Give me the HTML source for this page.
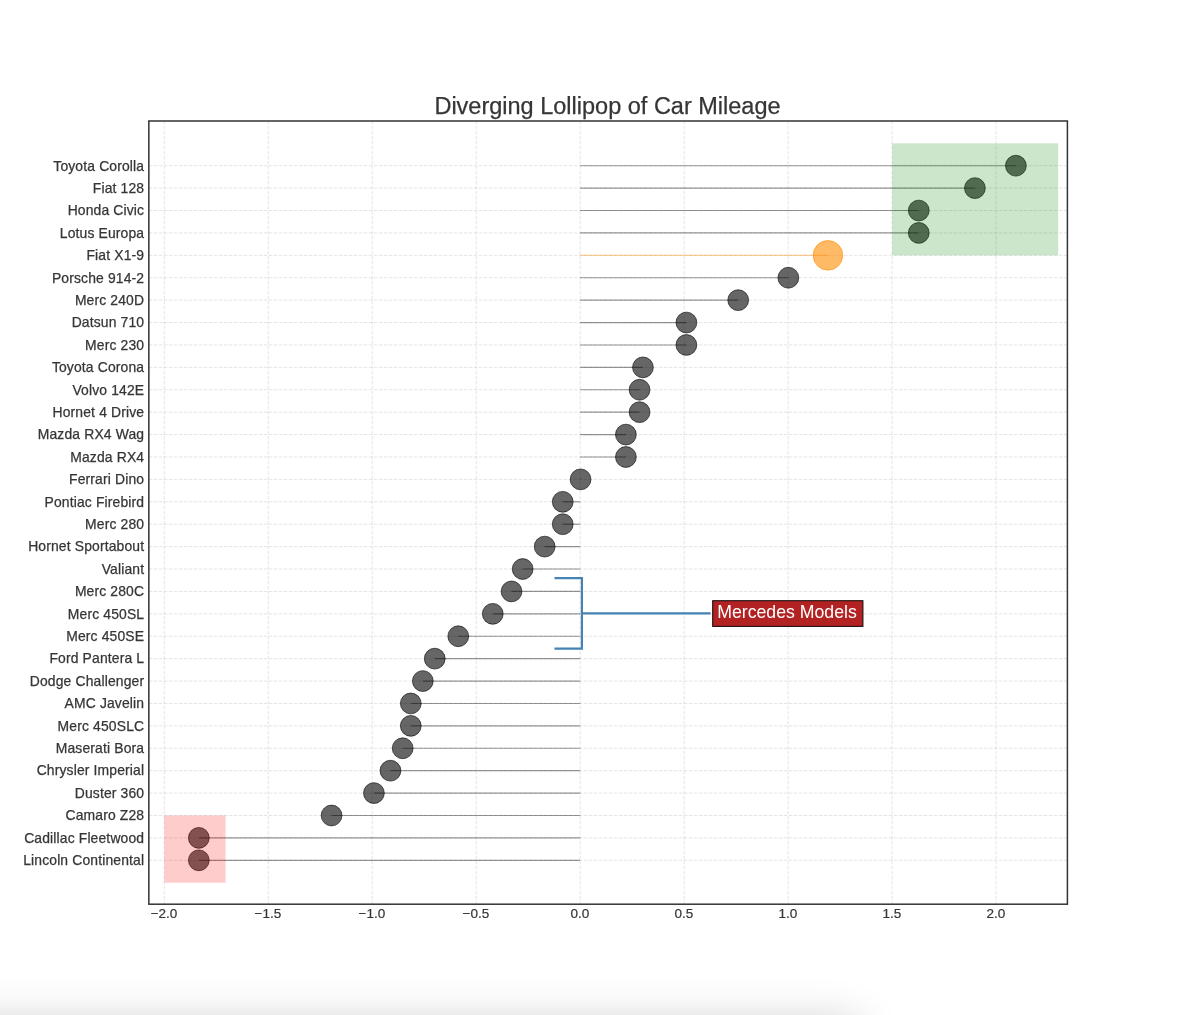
<!DOCTYPE html>
<html><head><meta charset="utf-8"><title>Diverging Lollipop of Car Mileage</title>
<style>html,body{margin:0;padding:0;background:#fff}body{width:1184px;height:1015px;overflow:hidden;position:relative}#shadow{position:absolute;left:-100px;top:1021px;width:958px;height:80px;background:#ddd;box-shadow:0 0 44px rgba(0,0,0,0.2)}</style></head>
<body>
<svg width="1184" height="1015" viewBox="0 0 1184 1015" style="display:block;position:absolute;left:0;top:0" font-family="Liberation Sans, Arial, sans-serif">
<rect width="1184" height="1015" fill="#fff"/>
<path d="M164.26 121.0 V904.2 M268.25 121.0 V904.2 M372.23 121.0 V904.2 M476.22 121.0 V904.2 M580.20 121.0 V904.2 M684.19 121.0 V904.2 M788.17 121.0 V904.2 M892.15 121.0 V904.2 M996.14 121.0 V904.2 M148.85 860.30 H1067.4 M148.85 837.89 H1067.4 M148.85 815.49 H1067.4 M148.85 793.08 H1067.4 M148.85 770.68 H1067.4 M148.85 748.27 H1067.4 M148.85 725.86 H1067.4 M148.85 703.46 H1067.4 M148.85 681.05 H1067.4 M148.85 658.65 H1067.4 M148.85 636.24 H1067.4 M148.85 613.83 H1067.4 M148.85 591.43 H1067.4 M148.85 569.02 H1067.4 M148.85 546.62 H1067.4 M148.85 524.21 H1067.4 M148.85 501.80 H1067.4 M148.85 479.40 H1067.4 M148.85 456.99 H1067.4 M148.85 434.59 H1067.4 M148.85 412.18 H1067.4 M148.85 389.77 H1067.4 M148.85 367.37 H1067.4 M148.85 344.96 H1067.4 M148.85 322.56 H1067.4 M148.85 300.15 H1067.4 M148.85 277.74 H1067.4 M148.85 255.34 H1067.4 M148.85 232.93 H1067.4 M148.85 210.53 H1067.4 M148.85 188.12 H1067.4 M148.85 165.71 H1067.4" stroke="#cccccc" stroke-opacity="0.5" stroke-width="1" stroke-dasharray="3.5 1.5" fill="none"/>
<path d="M580.20 860.30 H198.82" stroke="#000" stroke-opacity="0.4" stroke-width="1.15"/>
<path d="M580.20 837.89 H198.82" stroke="#000" stroke-opacity="0.4" stroke-width="1.15"/>
<path d="M580.20 815.49 H331.57" stroke="#000" stroke-opacity="0.4" stroke-width="1.15"/>
<path d="M580.20 793.08 H373.92" stroke="#000" stroke-opacity="0.4" stroke-width="1.15"/>
<path d="M580.20 770.68 H390.44" stroke="#000" stroke-opacity="0.4" stroke-width="1.15"/>
<path d="M580.20 748.27 H402.68" stroke="#000" stroke-opacity="0.4" stroke-width="1.15"/>
<path d="M580.20 725.86 H410.78" stroke="#000" stroke-opacity="0.4" stroke-width="1.15"/>
<path d="M580.20 703.46 H410.78" stroke="#000" stroke-opacity="0.4" stroke-width="1.15"/>
<path d="M580.20 681.05 H422.82" stroke="#000" stroke-opacity="0.4" stroke-width="1.15"/>
<path d="M580.20 658.65 H434.75" stroke="#000" stroke-opacity="0.4" stroke-width="1.15"/>
<path d="M580.20 636.24 H458.27" stroke="#000" stroke-opacity="0.4" stroke-width="1.15"/>
<path d="M580.20 613.83 H492.76" stroke="#000" stroke-opacity="0.4" stroke-width="1.15"/>
<path d="M580.20 591.43 H511.53" stroke="#000" stroke-opacity="0.4" stroke-width="1.15"/>
<path d="M580.20 569.02 H522.67" stroke="#000" stroke-opacity="0.4" stroke-width="1.15"/>
<path d="M580.20 546.62 H544.67" stroke="#000" stroke-opacity="0.4" stroke-width="1.15"/>
<path d="M580.20 524.21 H562.73" stroke="#000" stroke-opacity="0.4" stroke-width="1.15"/>
<path d="M580.20 501.80 H562.73" stroke="#000" stroke-opacity="0.4" stroke-width="1.15"/>
<path d="M580.20 479.40 H580.56" stroke="#000" stroke-opacity="0.4" stroke-width="1.15"/>
<path d="M580.20 456.99 H625.89" stroke="#000" stroke-opacity="0.4" stroke-width="1.15"/>
<path d="M580.20 434.59 H625.89" stroke="#000" stroke-opacity="0.4" stroke-width="1.15"/>
<path d="M580.20 412.18 H639.56" stroke="#000" stroke-opacity="0.4" stroke-width="1.15"/>
<path d="M580.20 389.77 H639.56" stroke="#000" stroke-opacity="0.4" stroke-width="1.15"/>
<path d="M580.20 367.37 H642.95" stroke="#000" stroke-opacity="0.4" stroke-width="1.15"/>
<path d="M580.20 344.96 H686.40" stroke="#000" stroke-opacity="0.4" stroke-width="1.15"/>
<path d="M580.20 322.56 H686.40" stroke="#000" stroke-opacity="0.4" stroke-width="1.15"/>
<path d="M580.20 300.15 H738.21" stroke="#000" stroke-opacity="0.4" stroke-width="1.15"/>
<path d="M580.20 277.74 H788.35" stroke="#000" stroke-opacity="0.4" stroke-width="1.15"/>
<path d="M580.20 255.34 H827.96" stroke="#ff8c00" stroke-opacity="0.4" stroke-width="1.15"/>
<path d="M580.20 232.93 H918.77" stroke="#000" stroke-opacity="0.4" stroke-width="1.15"/>
<path d="M580.20 210.53 H918.77" stroke="#000" stroke-opacity="0.4" stroke-width="1.15"/>
<path d="M580.20 188.12 H974.91" stroke="#000" stroke-opacity="0.4" stroke-width="1.15"/>
<path d="M580.20 165.71 H1015.89" stroke="#000" stroke-opacity="0.4" stroke-width="1.15"/>
<circle cx="198.82" cy="860.30" r="10.4" fill="#000" fill-opacity="0.6" stroke="#000" stroke-opacity="0.6" stroke-width="1"/>
<circle cx="198.82" cy="837.89" r="10.4" fill="#000" fill-opacity="0.6" stroke="#000" stroke-opacity="0.6" stroke-width="1"/>
<circle cx="331.57" cy="815.49" r="10.4" fill="#000" fill-opacity="0.6" stroke="#000" stroke-opacity="0.6" stroke-width="1"/>
<circle cx="373.92" cy="793.08" r="10.4" fill="#000" fill-opacity="0.6" stroke="#000" stroke-opacity="0.6" stroke-width="1"/>
<circle cx="390.44" cy="770.68" r="10.4" fill="#000" fill-opacity="0.6" stroke="#000" stroke-opacity="0.6" stroke-width="1"/>
<circle cx="402.68" cy="748.27" r="10.4" fill="#000" fill-opacity="0.6" stroke="#000" stroke-opacity="0.6" stroke-width="1"/>
<circle cx="410.78" cy="725.86" r="10.4" fill="#000" fill-opacity="0.6" stroke="#000" stroke-opacity="0.6" stroke-width="1"/>
<circle cx="410.78" cy="703.46" r="10.4" fill="#000" fill-opacity="0.6" stroke="#000" stroke-opacity="0.6" stroke-width="1"/>
<circle cx="422.82" cy="681.05" r="10.4" fill="#000" fill-opacity="0.6" stroke="#000" stroke-opacity="0.6" stroke-width="1"/>
<circle cx="434.75" cy="658.65" r="10.4" fill="#000" fill-opacity="0.6" stroke="#000" stroke-opacity="0.6" stroke-width="1"/>
<circle cx="458.27" cy="636.24" r="10.4" fill="#000" fill-opacity="0.6" stroke="#000" stroke-opacity="0.6" stroke-width="1"/>
<circle cx="492.76" cy="613.83" r="10.4" fill="#000" fill-opacity="0.6" stroke="#000" stroke-opacity="0.6" stroke-width="1"/>
<circle cx="511.53" cy="591.43" r="10.4" fill="#000" fill-opacity="0.6" stroke="#000" stroke-opacity="0.6" stroke-width="1"/>
<circle cx="522.67" cy="569.02" r="10.4" fill="#000" fill-opacity="0.6" stroke="#000" stroke-opacity="0.6" stroke-width="1"/>
<circle cx="544.67" cy="546.62" r="10.4" fill="#000" fill-opacity="0.6" stroke="#000" stroke-opacity="0.6" stroke-width="1"/>
<circle cx="562.73" cy="524.21" r="10.4" fill="#000" fill-opacity="0.6" stroke="#000" stroke-opacity="0.6" stroke-width="1"/>
<circle cx="562.73" cy="501.80" r="10.4" fill="#000" fill-opacity="0.6" stroke="#000" stroke-opacity="0.6" stroke-width="1"/>
<circle cx="580.56" cy="479.40" r="10.4" fill="#000" fill-opacity="0.6" stroke="#000" stroke-opacity="0.6" stroke-width="1"/>
<circle cx="625.89" cy="456.99" r="10.4" fill="#000" fill-opacity="0.6" stroke="#000" stroke-opacity="0.6" stroke-width="1"/>
<circle cx="625.89" cy="434.59" r="10.4" fill="#000" fill-opacity="0.6" stroke="#000" stroke-opacity="0.6" stroke-width="1"/>
<circle cx="639.56" cy="412.18" r="10.4" fill="#000" fill-opacity="0.6" stroke="#000" stroke-opacity="0.6" stroke-width="1"/>
<circle cx="639.56" cy="389.77" r="10.4" fill="#000" fill-opacity="0.6" stroke="#000" stroke-opacity="0.6" stroke-width="1"/>
<circle cx="642.95" cy="367.37" r="10.4" fill="#000" fill-opacity="0.6" stroke="#000" stroke-opacity="0.6" stroke-width="1"/>
<circle cx="686.40" cy="344.96" r="10.4" fill="#000" fill-opacity="0.6" stroke="#000" stroke-opacity="0.6" stroke-width="1"/>
<circle cx="686.40" cy="322.56" r="10.4" fill="#000" fill-opacity="0.6" stroke="#000" stroke-opacity="0.6" stroke-width="1"/>
<circle cx="738.21" cy="300.15" r="10.4" fill="#000" fill-opacity="0.6" stroke="#000" stroke-opacity="0.6" stroke-width="1"/>
<circle cx="788.35" cy="277.74" r="10.4" fill="#000" fill-opacity="0.6" stroke="#000" stroke-opacity="0.6" stroke-width="1"/>
<circle cx="827.96" cy="255.34" r="14.8" fill="#ff8c00" fill-opacity="0.6" stroke="#ff8c00" stroke-opacity="0.6" stroke-width="1"/>
<circle cx="918.77" cy="232.93" r="10.4" fill="#000" fill-opacity="0.6" stroke="#000" stroke-opacity="0.6" stroke-width="1"/>
<circle cx="918.77" cy="210.53" r="10.4" fill="#000" fill-opacity="0.6" stroke="#000" stroke-opacity="0.6" stroke-width="1"/>
<circle cx="974.91" cy="188.12" r="10.4" fill="#000" fill-opacity="0.6" stroke="#000" stroke-opacity="0.6" stroke-width="1"/>
<circle cx="1015.89" cy="165.71" r="10.4" fill="#000" fill-opacity="0.6" stroke="#000" stroke-opacity="0.6" stroke-width="1"/>
<rect x="164.26" y="815.49" width="61.29" height="67.22" fill="#ff0000" fill-opacity="0.2"/>
<rect x="892.15" y="143.31" width="166.08" height="112.03" fill="#008000" fill-opacity="0.2"/>
<rect x="148.85" y="121.0" width="918.5500000000001" height="783.2" fill="none" stroke="#333" stroke-width="1.5"/>
<path d="M554.5 578.1 H581.9 V648.6 H554.5 M581.9 613.3 H710.6" fill="none" stroke="#4682b4" stroke-width="2.2" stroke-linejoin="miter"/>
<rect x="712.7" y="600.7" width="150.2" height="25.7" fill="#b22222" stroke="#1a1010" stroke-width="1.1"/>
<text x="787.0" y="618.2" font-size="17.7" fill="#fff" text-anchor="middle">Mercedes Models</text>
<text x="607.5" y="113.8" font-size="23.5" stroke="#363636" stroke-width="0.25" fill="#363636" text-anchor="middle">Diverging Lollipop of Car Mileage</text>
<text x="144.2" y="865.10" font-size="13.9" letter-spacing="0.15" stroke="#363636" stroke-width="0.25" fill="#363636" text-anchor="end">Lincoln Continental</text>
<text x="144.2" y="842.69" font-size="13.9" letter-spacing="0.15" stroke="#363636" stroke-width="0.25" fill="#363636" text-anchor="end">Cadillac Fleetwood</text>
<text x="144.2" y="820.29" font-size="13.9" letter-spacing="0.15" stroke="#363636" stroke-width="0.25" fill="#363636" text-anchor="end">Camaro Z28</text>
<text x="144.2" y="797.88" font-size="13.9" letter-spacing="0.15" stroke="#363636" stroke-width="0.25" fill="#363636" text-anchor="end">Duster 360</text>
<text x="144.2" y="775.48" font-size="13.9" letter-spacing="0.15" stroke="#363636" stroke-width="0.25" fill="#363636" text-anchor="end">Chrysler Imperial</text>
<text x="144.2" y="753.07" font-size="13.9" letter-spacing="0.15" stroke="#363636" stroke-width="0.25" fill="#363636" text-anchor="end">Maserati Bora</text>
<text x="144.2" y="730.66" font-size="13.9" letter-spacing="0.15" stroke="#363636" stroke-width="0.25" fill="#363636" text-anchor="end">Merc 450SLC</text>
<text x="144.2" y="708.26" font-size="13.9" letter-spacing="0.15" stroke="#363636" stroke-width="0.25" fill="#363636" text-anchor="end">AMC Javelin</text>
<text x="144.2" y="685.85" font-size="13.9" letter-spacing="0.15" stroke="#363636" stroke-width="0.25" fill="#363636" text-anchor="end">Dodge Challenger</text>
<text x="144.2" y="663.45" font-size="13.9" letter-spacing="0.15" stroke="#363636" stroke-width="0.25" fill="#363636" text-anchor="end">Ford Pantera L</text>
<text x="144.2" y="641.04" font-size="13.9" letter-spacing="0.15" stroke="#363636" stroke-width="0.25" fill="#363636" text-anchor="end">Merc 450SE</text>
<text x="144.2" y="618.63" font-size="13.9" letter-spacing="0.15" stroke="#363636" stroke-width="0.25" fill="#363636" text-anchor="end">Merc 450SL</text>
<text x="144.2" y="596.23" font-size="13.9" letter-spacing="0.15" stroke="#363636" stroke-width="0.25" fill="#363636" text-anchor="end">Merc 280C</text>
<text x="144.2" y="573.82" font-size="13.9" letter-spacing="0.15" stroke="#363636" stroke-width="0.25" fill="#363636" text-anchor="end">Valiant</text>
<text x="144.2" y="551.42" font-size="13.9" letter-spacing="0.15" stroke="#363636" stroke-width="0.25" fill="#363636" text-anchor="end">Hornet Sportabout</text>
<text x="144.2" y="529.01" font-size="13.9" letter-spacing="0.15" stroke="#363636" stroke-width="0.25" fill="#363636" text-anchor="end">Merc 280</text>
<text x="144.2" y="506.60" font-size="13.9" letter-spacing="0.15" stroke="#363636" stroke-width="0.25" fill="#363636" text-anchor="end">Pontiac Firebird</text>
<text x="144.2" y="484.20" font-size="13.9" letter-spacing="0.15" stroke="#363636" stroke-width="0.25" fill="#363636" text-anchor="end">Ferrari Dino</text>
<text x="144.2" y="461.79" font-size="13.9" letter-spacing="0.15" stroke="#363636" stroke-width="0.25" fill="#363636" text-anchor="end">Mazda RX4</text>
<text x="144.2" y="439.39" font-size="13.9" letter-spacing="0.15" stroke="#363636" stroke-width="0.25" fill="#363636" text-anchor="end">Mazda RX4 Wag</text>
<text x="144.2" y="416.98" font-size="13.9" letter-spacing="0.15" stroke="#363636" stroke-width="0.25" fill="#363636" text-anchor="end">Hornet 4 Drive</text>
<text x="144.2" y="394.57" font-size="13.9" letter-spacing="0.15" stroke="#363636" stroke-width="0.25" fill="#363636" text-anchor="end">Volvo 142E</text>
<text x="144.2" y="372.17" font-size="13.9" letter-spacing="0.15" stroke="#363636" stroke-width="0.25" fill="#363636" text-anchor="end">Toyota Corona</text>
<text x="144.2" y="349.76" font-size="13.9" letter-spacing="0.15" stroke="#363636" stroke-width="0.25" fill="#363636" text-anchor="end">Merc 230</text>
<text x="144.2" y="327.36" font-size="13.9" letter-spacing="0.15" stroke="#363636" stroke-width="0.25" fill="#363636" text-anchor="end">Datsun 710</text>
<text x="144.2" y="304.95" font-size="13.9" letter-spacing="0.15" stroke="#363636" stroke-width="0.25" fill="#363636" text-anchor="end">Merc 240D</text>
<text x="144.2" y="282.54" font-size="13.9" letter-spacing="0.15" stroke="#363636" stroke-width="0.25" fill="#363636" text-anchor="end">Porsche 914-2</text>
<text x="144.2" y="260.14" font-size="13.9" letter-spacing="0.15" stroke="#363636" stroke-width="0.25" fill="#363636" text-anchor="end">Fiat X1-9</text>
<text x="144.2" y="237.73" font-size="13.9" letter-spacing="0.15" stroke="#363636" stroke-width="0.25" fill="#363636" text-anchor="end">Lotus Europa</text>
<text x="144.2" y="215.33" font-size="13.9" letter-spacing="0.15" stroke="#363636" stroke-width="0.25" fill="#363636" text-anchor="end">Honda Civic</text>
<text x="144.2" y="192.92" font-size="13.9" letter-spacing="0.15" stroke="#363636" stroke-width="0.25" fill="#363636" text-anchor="end">Fiat 128</text>
<text x="144.2" y="170.51" font-size="13.9" letter-spacing="0.15" stroke="#363636" stroke-width="0.25" fill="#363636" text-anchor="end">Toyota Corolla</text>
<text x="163.96" y="918.0" font-size="13.5" stroke="#363636" stroke-width="0.2" fill="#363636" text-anchor="middle">−2.0</text>
<text x="267.95" y="918.0" font-size="13.5" stroke="#363636" stroke-width="0.2" fill="#363636" text-anchor="middle">−1.5</text>
<text x="371.93" y="918.0" font-size="13.5" stroke="#363636" stroke-width="0.2" fill="#363636" text-anchor="middle">−1.0</text>
<text x="475.92" y="918.0" font-size="13.5" stroke="#363636" stroke-width="0.2" fill="#363636" text-anchor="middle">−0.5</text>
<text x="579.90" y="918.0" font-size="13.5" stroke="#363636" stroke-width="0.2" fill="#363636" text-anchor="middle">0.0</text>
<text x="683.89" y="918.0" font-size="13.5" stroke="#363636" stroke-width="0.2" fill="#363636" text-anchor="middle">0.5</text>
<text x="787.87" y="918.0" font-size="13.5" stroke="#363636" stroke-width="0.2" fill="#363636" text-anchor="middle">1.0</text>
<text x="891.86" y="918.0" font-size="13.5" stroke="#363636" stroke-width="0.2" fill="#363636" text-anchor="middle">1.5</text>
<text x="995.84" y="918.0" font-size="13.5" stroke="#363636" stroke-width="0.2" fill="#363636" text-anchor="middle">2.0</text>
</svg>
<div id="shadow"></div>
</body></html>
